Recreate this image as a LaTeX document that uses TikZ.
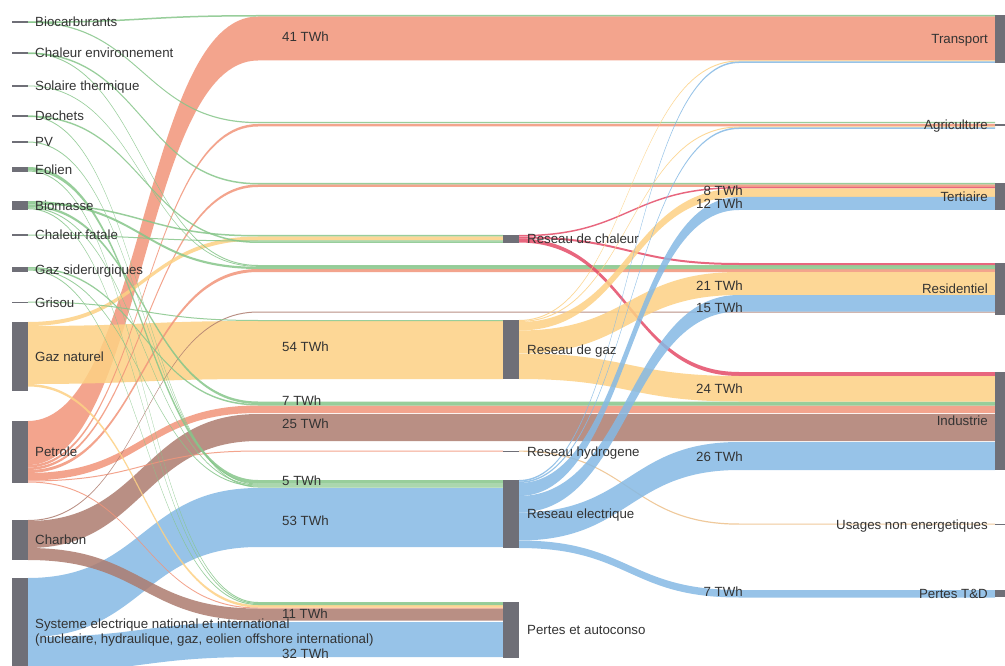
\documentclass[tikz,border=0pt]{standalone}
\usepackage{fontspec}
\setmainfont{Liberation Sans}
\usetikzlibrary{calc,positioning}
\pgfdeclarelayer{flows}
\pgfsetlayers{flows,main}
\definecolor{nodegray}{HTML}{6F6F77}
\definecolor{textc}{HTML}{333333}
\definecolor{salmonc}{HTML}{F2957A}
\definecolor{yellowc}{HTML}{FDD184}
\definecolor{greenc}{HTML}{86C68A}
\definecolor{bluec}{HTML}{85B9E4}
\definecolor{brownc}{HTML}{AD7C6F}
\definecolor{pinkc}{HTML}{E44C68}
\definecolor{hydroc}{HTML}{EDC08A}
% band: style, source, offset, target, offset, width, curve length
\newcommand{\flowband}[7]{%
  \path[#1] let \p1=(#2.north east), \p2=(#4.north west) in
    (\x1,{\y1-(#3)})
    .. controls ({\x1+0.5*(#7)},{\y1-(#3)}) and ({\x1+0.5*(#7)},{\y2-(#5)}) .. ({\x1+(#7)},{\y2-(#5)})
    -- (\x2,{\y2-(#5)}) -- (\x2,{\y2-(#5)-(#6)}) -- ({\x1+(#7)},{\y2-(#5)-(#6)})
    .. controls ({\x1+0.5*(#7)},{\y2-(#5)-(#6)}) and ({\x1+0.5*(#7)},{\y1-(#3)-(#6)}) .. (\x1,{\y1-(#3)-(#6)})
    -- cycle;}
\begin{document}
\begin{tikzpicture}[x=1pt,y=-1pt,
  bar/.style={fill=nodegray,inner sep=0pt,outer sep=0pt,anchor=north west,minimum width=16pt},
  barR/.style={bar,minimum width=10pt},
  txt/.style={font=\fontsize{13.3}{15}\selectfont,text=textc,inner sep=0pt,text height=11pt,text depth=1.5pt},
  flowG/.style={fill=greenc,fill opacity=0.85},
  flowY/.style={fill=yellowc,fill opacity=0.85},
  flowS/.style={fill=salmonc,fill opacity=0.85},
  flowB/.style={fill=bluec,fill opacity=0.85},
  flowM/.style={fill=brownc,fill opacity=0.85},
  flowP/.style={fill=pinkc,fill opacity=0.85},
  flowH/.style={fill=hydroc,fill opacity=0.85}]
\def\dl{230}
\def\dm{220}
\useasboundingbox (0,0) rectangle (1005,666);

\node[bar,minimum height=1.5pt] (bio) at (12,21.5) {};
\node[bar,minimum height=1.5pt] (chenv) at (12,52.5) {};
\node[bar,minimum height=1.5pt] (solth) at (12,85.5) {};
\node[bar,minimum height=1.5pt] (dech) at (12,115.5) {};
\node[bar,minimum height=1.5pt] (pv) at (12,141.5) {};
\node[bar,minimum height=5pt] (eol) at (12,167) {};
\node[bar,minimum height=9pt] (biom) at (12,201) {};
\node[bar,minimum height=1.5pt] (chfat) at (12,234.5) {};
\node[bar,minimum height=5pt] (gazsid) at (12,267) {};
\node[bar,minimum height=1.5pt] (gris) at (12,301.5) {};
\node[bar,minimum height=69pt] (gaznat) at (12,322) {};
\node[bar,minimum height=62pt] (petr) at (12,421) {};
\node[bar,minimum height=40pt] (charb) at (12,520) {};
\node[bar,minimum height=90pt] (syst) at (12,578) {};

\node[bar,minimum height=8pt] (rchal) at (503,235) {};
\node[bar,minimum height=59pt] (rgaz) at (503,320) {};
\node[bar,minimum height=1.5pt] (rhyd) at (503,450.5) {};
\node[bar,minimum height=68pt] (relec) at (503,480) {};
\node[bar,minimum height=56pt] (pertes) at (503,602) {};

\node[barR,minimum height=48pt] (transp) at (995,15) {};
\node[barR,minimum height=1.5pt] (agri) at (995,124.5) {};
\node[barR,minimum height=27pt] (tert) at (995,183) {};
\node[barR,minimum height=52pt] (resid) at (995,263) {};
\node[barR,minimum height=98pt] (indus) at (995,372) {};
\node[barR,minimum height=1.5pt] (usages) at (995,523.5) {};
\node[barR,minimum height=7pt] (pertd) at (995,590) {};

\begin{pgfonlayer}{flows}
\fill[white] (0,0) rectangle (1005,666);
% sources
\flowband{flowS}{petr}{0}{transp}{1.5}{44}{\dl}
\flowband{flowY}{gaznat}{4}{rgaz}{1}{58}{\dl}
\flowband{flowM}{charb}{1}{indus}{42}{27}{\dl}
\flowband{flowB}{syst}{0}{relec}{8}{59}{\dl}
\flowband{flowB}{syst}{59}{pertes}{20}{35}{\dl}
\flowband{flowM}{charb}{28}{pertes}{6.5}{12}{\dl}
\flowband{flowS}{petr}{52}{indus}{33.5}{7.5}{\dl}
\flowband{flowS}{petr}{44}{agri}{-0.5}{2.5}{\dl}
\flowband{flowS}{petr}{46.5}{tert}{1.5}{2.5}{\dl}
\flowband{flowS}{petr}{49}{resid}{6}{3}{\dl}
\flowband{flowS}{petr}{59.5}{rhyd}{0}{1}{\dl}
\flowband{flowS}{petr}{60.5}{pertes}{5.5}{1}{\dl}
\flowband{flowM}{charb}{0}{resid}{48.5}{1}{\dl}
\flowband{flowY}{gaznat}{0}{rchal}{1.5}{4}{\dl}
\flowband{flowY}{gaznat}{62}{pertes}{3}{2.5}{\dl}
\flowband{flowG}{bio}{0}{transp}{0}{1.5}{\dl}
\flowband{flowG}{bio}{0}{agri}{-2.5}{1.2}{\dl}
\flowband{flowG}{chenv}{0}{tert}{0}{1.5}{\dl}
\flowband{flowG}{chenv}{0}{resid}{2}{1}{\dl}
\flowband{flowG}{solth}{0}{resid}{3}{0.8}{\dl}
\flowband{flowG}{dech}{0}{rchal}{6.5}{1.5}{\dl}
\flowband{flowG}{dech}{0}{relec}{6.5}{1}{\dl}
\flowband{flowG}{pv}{0}{relec}{3.5}{1}{\dl}
\flowband{flowG}{eol}{0}{relec}{0}{3.5}{\dl}
\flowband{flowG}{eol}{3.5}{pertes}{0}{1}{\dl}
\flowband{flowG}{biom}{0}{resid}{3.8}{2.2}{\dl}
\flowband{flowG}{biom}{2.2}{rchal}{0}{1.5}{\dl}
\flowband{flowG}{biom}{3.7}{indus}{29.5}{2.5}{\dl}
\flowband{flowG}{biom}{6.2}{relec}{4.5}{1}{\dl}
\flowband{flowG}{biom}{7.2}{pertes}{1}{1}{\dl}
\flowband{flowG}{chfat}{0}{rchal}{5.5}{1}{\dl}
\flowband{flowG}{gazsid}{0}{indus}{32}{1.5}{\dl}
\flowband{flowG}{gazsid}{1.5}{relec}{5.5}{1}{\dl}
\flowband{flowG}{gazsid}{2.5}{pertes}{2}{1}{\dl}
\flowband{flowG}{gris}{0}{rgaz}{0}{1}{\dl}
% networks
\flowband{flowP}{rchal}{0}{tert}{4}{1.5}{\dm}
\flowband{flowP}{rchal}{1.5}{resid}{0}{2}{\dm}
\flowband{flowP}{rchal}{3.5}{indus}{0}{4}{\dm}
\flowband{flowY}{rgaz}{0}{transp}{45.5}{1}{\dm}
\flowband{flowY}{rgaz}{1}{agri}{2}{1}{\dm}
\flowband{flowY}{rgaz}{2}{tert}{5.5}{8.5}{\dm}
\flowband{flowY}{rgaz}{10.5}{resid}{9}{23}{\dm}
\flowband{flowY}{rgaz}{33.5}{indus}{4}{25.5}{\dm}
\flowband{flowH}{rhyd}{0}{usages}{0}{1.2}{\dm}
\flowband{flowB}{relec}{0}{transp}{46.5}{1.5}{\dm}
\flowband{flowB}{relec}{1.5}{agri}{3}{1.5}{\dm}
\flowband{flowB}{relec}{3}{tert}{14}{13}{\dm}
\flowband{flowB}{relec}{16}{resid}{32}{16.5}{\dm}
\flowband{flowB}{relec}{32.5}{indus}{70}{28}{\dm}
\flowband{flowB}{relec}{60.5}{pertd}{0}{7.5}{\dm}
\end{pgfonlayer}

\node[txt,right=7pt of bio] (bioL) {Biocarburants};
\node[txt,right=7pt of chenv] (chenvL) {Chaleur environnement};
\node[txt,right=7pt of solth] (solthL) {Solaire thermique};
\node[txt,right=7pt of dech] (dechL) {Dechets};
\node[txt,right=7pt of pv] (pvL) {PV};
\node[txt,right=7pt of eol] (eolL) {Eolien};
\node[txt,right=7pt of biom] (biomL) {Biomasse};
\node[txt,right=7pt of chfat] (chfatL) {Chaleur fatale};
\node[txt,right=7pt of gazsid] (gazsidL) {Gaz siderurgiques};
\node[txt,right=7pt of gris] (grisL) {Grisou};
\node[txt,right=7pt of gaznat] (gaznatL) {Gaz naturel};
\node[txt,right=7pt of petr] (petrL) {Petrole};
\node[txt,right=7pt of charb] (charbL) {Charbon};
\node[txt,align=left,anchor=north west,text height=,text depth=] (systL) at (35,619) {Systeme electrique national et international\\(nucleaire, hydraulique, gaz, eolien offshore international)};

\node[txt,right=8pt of rchal] (rchalL) {Reseau de chaleur};
\node[txt,right=8pt of rgaz] (rgazL) {Reseau de gaz};
\node[txt,right=8pt of rhyd] (rhydL) {Reseau hydrogene};
\node[txt,right=8pt of relec] (relecL) {Reseau electrique};
\node[txt,right=8pt of pertes] (pertesL) {Pertes et autoconso};

\node[txt,left=7pt of transp] (transpL) {Transport};
\node[txt,left=7pt of agri] (agriL) {Agriculture};
\node[txt,left=7pt of tert] (tertL) {Tertiaire};
\node[txt,left=7pt of resid] (residL) {Residentiel};
\node[txt,left=7pt of indus] (indusL) {Industrie};
\node[txt,left=7pt of usages] (usagesL) {Usages non energetiques};
\node[txt,left=7pt of pertd] (pertdL) {Pertes T\&D};

\node[txt,anchor=west] (v41) at (282,37) {41 TWh};
\node[txt,anchor=west] (v54) at (282,347) {54 TWh};
\node[txt,anchor=west] (v7a) at (282,401) {7 TWh};
\node[txt,anchor=west] (v25) at (282,424) {25 TWh};
\node[txt,anchor=west] (v5) at (282,481) {5 TWh};
\node[txt,anchor=west] (v53) at (282,521) {53 TWh};
\node[txt,anchor=west] (v11) at (282,614) {11 TWh};
\node[txt,anchor=west] (v32) at (282,654) {32 TWh};
\node[txt,anchor=east] (v8) at (743,191) {8 TWh};
\node[txt,anchor=east] (v12) at (743,204) {12 TWh};
\node[txt,anchor=east] (v21) at (743,286) {21 TWh};
\node[txt,anchor=east] (v15) at (743,308) {15 TWh};
\node[txt,anchor=east] (v24) at (743,389) {24 TWh};
\node[txt,anchor=east] (v26) at (743,457) {26 TWh};
\node[txt,anchor=east] (v7b) at (743,592) {7 TWh};
\end{tikzpicture}
\end{document}
